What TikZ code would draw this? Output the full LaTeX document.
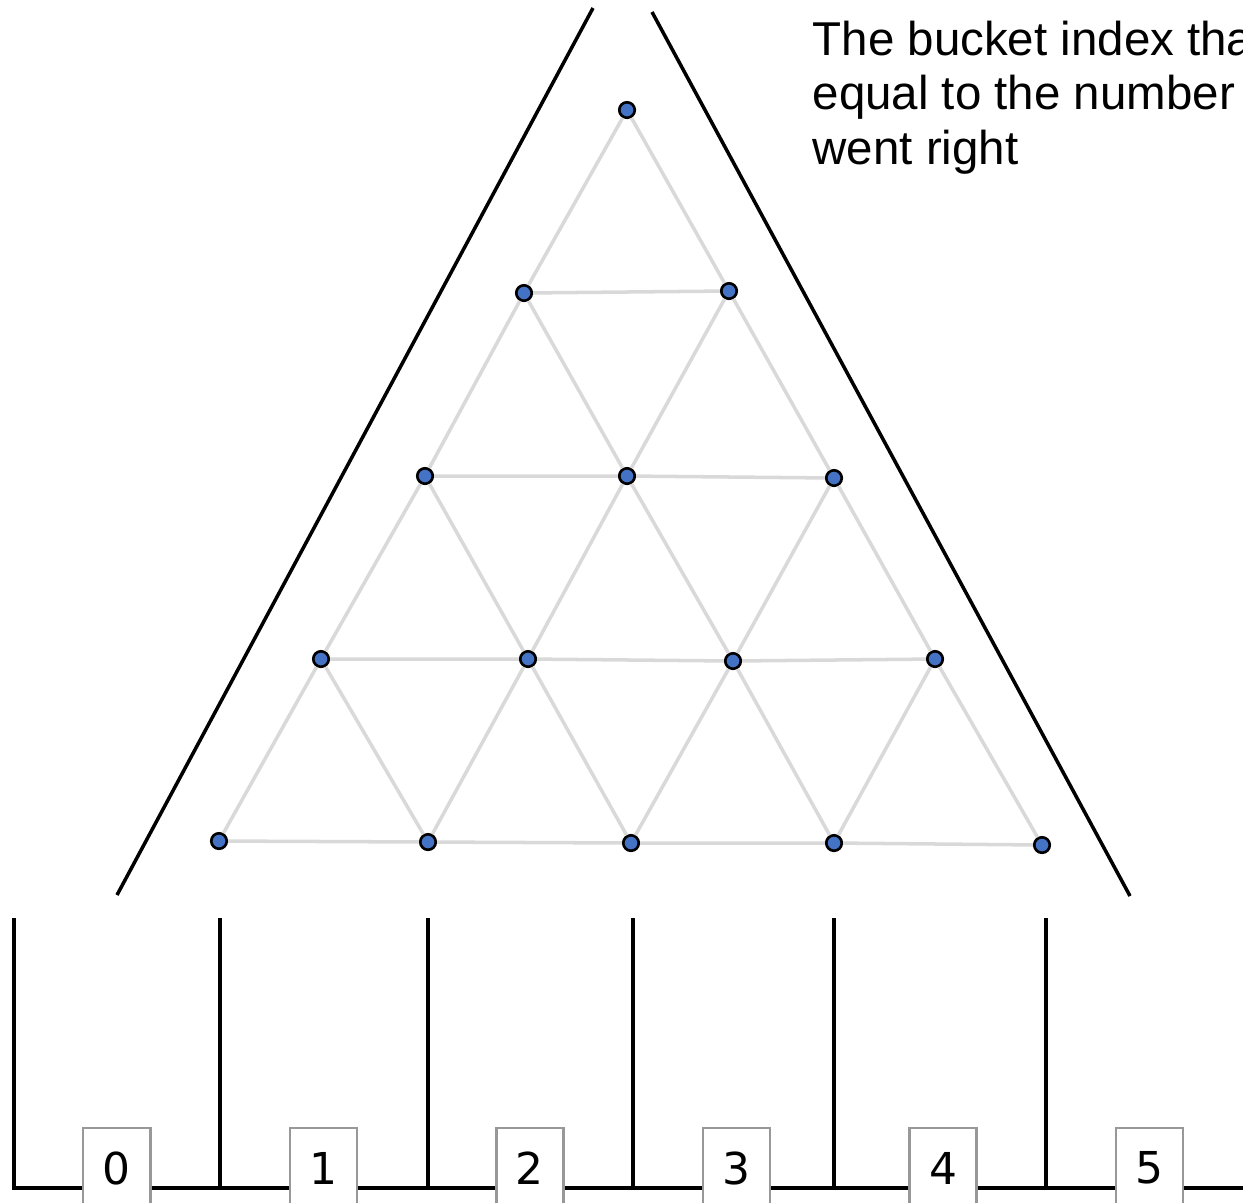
\documentclass[tikz,border=0pt]{standalone}
\usepackage{fontspec}
\setmainfont{Liberation Sans}
\newfontfamily\digitfont{DejaVu Sans}
\usetikzlibrary{positioning}
\definecolor{pegblue}{HTML}{4472C4}
\definecolor{latticegray}{HTML}{D9D9D9}
\definecolor{boxgray}{HTML}{989898}

\begin{document}
\begin{tikzpicture}[x=0.01cm, y=-0.01cm, node distance=1.37cm,
  peg/.style={circle, draw=black, fill=pegblue, line width=0.75pt, inner sep=0pt, minimum size=0.155cm},
  lattice/.style={draw=latticegray, line width=1pt},
  wall/.style={draw=black, line width=1pt},
  binbox/.style={draw=boxgray, fill=white, line width=0.7pt, minimum width=0.67cm, minimum height=0.8cm, inner sep=0pt, font=\digitfont\fontsize{12.5}{15}\selectfont}]
\useasboundingbox (0,0) rectangle (1243,1202);

% funnel
\coordinate (funnel-lt) at (593,8);
\coordinate (funnel-lb) at (117,895);
\coordinate (funnel-rt) at (652,12);
\coordinate (funnel-rb) at (1130,896);
\draw[wall] (funnel-lt) -- (funnel-lb);
\draw[wall] (funnel-rt) -- (funnel-rb);

% pegs
\node (p00) [peg] at (627,110) {};
\node (p10) [peg] at (524,293) {};
\node (p11) [peg] at (729,291) {};
\node (p20) [peg] at (425,476) {};
\node (p21) [peg] at (627,476) {};
\node (p22) [peg] at (834,478) {};
\node (p30) [peg] at (321,659) {};
\node (p31) [peg] at (528,659) {};
\node (p32) [peg] at (733,661) {};
\node (p33) [peg] at (935,659) {};
\node (p40) [peg] at (219,841) {};
\node (p41) [peg] at (428,842) {};
\node (p42) [peg] at (631,843) {};
\node (p43) [peg] at (834,843) {};
\node (p44) [peg] at (1042,845) {};

% lattice
\draw[lattice] (p00) -- (p10) -- (p20) -- (p30) -- (p40);
\draw[lattice] (p11) -- (p21) -- (p31) -- (p41);
\draw[lattice] (p22) -- (p32) -- (p42);
\draw[lattice] (p33) -- (p43);
\draw[lattice] (p00) -- (p11) -- (p22) -- (p33) -- (p44);
\draw[lattice] (p10) -- (p21) -- (p32) -- (p43);
\draw[lattice] (p20) -- (p31) -- (p42);
\draw[lattice] (p30) -- (p41);
\draw[lattice] (p10) -- (p11);
\draw[lattice] (p20) -- (p21) -- (p22);
\draw[lattice] (p30) -- (p31) -- (p32) -- (p33);
\draw[lattice] (p40) -- (p41) -- (p42) -- (p43) -- (p44);

% buckets
\coordinate (w0t) at (14,918);   \coordinate (w0b) at (14,1188);
\coordinate (w1t) at (220,918);  \coordinate (w1b) at (220,1188);
\coordinate (w2t) at (428,918);  \coordinate (w2b) at (428,1188);
\coordinate (w3t) at (633,918);  \coordinate (w3b) at (633,1188);
\coordinate (w4t) at (834,918);  \coordinate (w4b) at (834,1188);
\coordinate (w5t) at (1046,918); \coordinate (w5b) at (1046,1188);
\coordinate (floorend) at (1243,1188);
\draw[wall] (w0t) -- (w0b) -- (floorend);
\draw[wall] (w1t) -- (w1b);
\draw[wall] (w2t) -- (w2b);
\draw[wall] (w3t) -- (w3b);
\draw[wall] (w4t) -- (w4b);
\draw[wall] (w5t) -- (w5b);

\node (b0) [binbox, anchor=north west] at (82,1127) {0};
\node (b1) [binbox, right=of b0] {1};
\node (b2) [binbox, right=of b1] {2};
\node (b3) [binbox, right=of b2] {3};
\node (b4) [binbox, right=of b3] {4};
\node (b5) [binbox, right=of b4] {5};

% note (base is the last line)
\node (note) [anchor=base west, align=left, inner sep=0pt, font=\fontsize{13.5}{15.4}\selectfont] at (812,164)
  {The bucket index that\\equal to the number\\went right};
\end{tikzpicture}
\end{document}
